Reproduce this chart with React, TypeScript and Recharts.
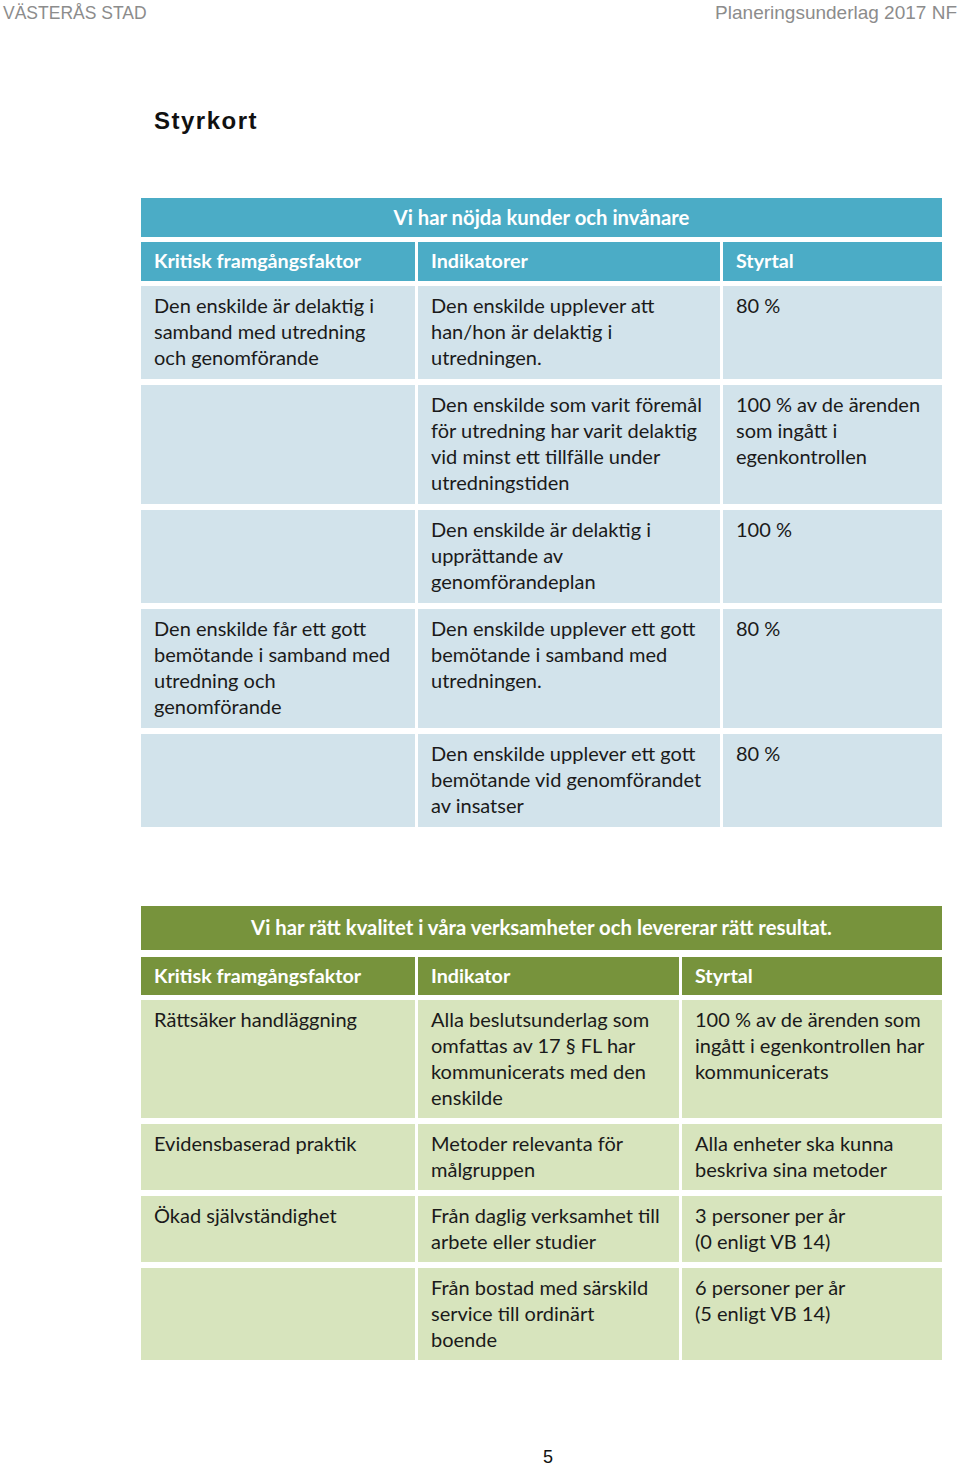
import React from "react";
import { ComposedChart, Customized } from "recharts";

// ---------- Data (text content of the page) ----------
const pageHeaderLeft = "VÄSTERÅS STAD";
const pageHeaderRight = "Planeringsunderlag 2017 NF";
const pageTitle = "Styrkort";
const pageNumber = "5";

const t1Title = "Vi har nöjda kunder och invånare";
const t1Headers = ["Kritisk framgångsfaktor", "Indikatorer", "Styrtal"];
const t1Factors: string[][] = [
  ["Den enskilde är delaktig i", "samband med utredning", "och genomförande"],
  [],
  [],
  ["Den enskilde får ett gott", "bemötande i samband med", "utredning och", "genomförande"],
  [],
];
const t1Indicators: string[][] = [
  ["Den enskilde upplever att", "han/hon är delaktig i", "utredningen."],
  ["Den enskilde som varit föremål", "för utredning har varit delaktig", "vid minst ett tillfälle under", "utredningstiden"],
  ["Den enskilde är delaktig i", "upprättande av", "genomförandeplan"],
  ["Den enskilde upplever ett gott", "bemötande i samband med", "utredningen."],
  ["Den enskilde upplever ett gott", "bemötande vid genomförandet", "av insatser"],
];
const t1Targets: string[][] = [
  ["80 %"],
  ["100 % av de ärenden", "som ingått i", "egenkontrollen"],
  ["100 %"],
  ["80 %"],
  ["80 %"],
];

const t2Title = "Vi har rätt kvalitet i våra verksamheter och levererar rätt resultat.";
const t2Headers = ["Kritisk framgångsfaktor", "Indikator", "Styrtal"];
const t2Factors: string[][] = [
  ["Rättsäker handläggning"],
  ["Evidensbaserad praktik"],
  ["Ökad självständighet"],
  [],
];
const t2Indicators: string[][] = [
  ["Alla beslutsunderlag som", "omfattas av 17 § FL har", "kommunicerats med den", "enskilde"],
  ["Metoder relevanta för", "målgruppen"],
  ["Från daglig verksamhet till", "arbete eller studier"],
  ["Från bostad med särskild", "service till ordinärt", "boende"],
];
const t2Targets: string[][] = [
  ["100 % av de ärenden som", "ingått i egenkontrollen har", "kommunicerats"],
  ["Alla enheter ska kunna", "beskriva sina metoder"],
  ["3 personer per år", "(0 enligt VB 14)"],
  ["6 personer per år", "(5 enligt VB 14)"],
];

// ---------- Layout ----------
const W = 960;
const H = 1466;
const FONT = "Lato, 'Open Sans', sans-serif";
const LINE = 26;
const FS = 20;
const FS_HEAD = 19.7;
const FS_TITLE = 20.3;

type TableProps = {
  y0: number;
  title: string;
  headers: string[];
  colX: number[];
  colR: number[];
  rows: string[][][];
  dark: string;
  light: string;
  titleH: number;
  headerH: number;
  gapTitle: number;
  gapHeader: number;
  rowPad: number;
  rowGap: number;
};

function Table(p: TableProps) {
  const els: React.ReactNode[] = [];
  const left = p.colX[0];
  const right = p.colR[p.colR.length - 1];
  let y = p.y0;
  els.push(<rect key="tt" x={left} y={y} width={right - left} height={p.titleH} fill={p.dark} />);
  els.push(
    <text key="ttx" x={(left + right) / 2} y={y + p.titleH / 2 + 7} textAnchor="middle" fontFamily={FONT}
      fontWeight={700} fontSize={FS_TITLE} fill="#ffffff">{p.title}</text>
  );
  y += p.titleH + p.gapTitle;
  p.headers.forEach((h, i) => {
    els.push(<rect key={"h" + i} x={p.colX[i]} y={y} width={p.colR[i] - p.colX[i]} height={p.headerH} fill={p.dark} />);
    els.push(
      <text key={"hx" + i} x={p.colX[i] + 13} y={y + p.headerH / 2 + 6.5} fontFamily={FONT} fontWeight={700}
        fontSize={FS_HEAD} fill="#ffffff">{h}</text>
    );
  });
  y += p.headerH + p.gapHeader;
  const nRows = p.rows[0].length;
  for (let r = 0; r < nRows; r++) {
    const n = Math.max(...p.rows.map((c) => c[r].length));
    const h = n * LINE + p.rowPad;
    p.rows.forEach((col, c) => {
      els.push(<rect key={`r${r}c${c}`} x={p.colX[c]} y={y} width={p.colR[c] - p.colX[c]} height={h} fill={p.light} />);
      col[r].forEach((line, li) => {
        els.push(
          <text key={`t${r}c${c}l${li}`} x={p.colX[c] + 13} y={y + 27 + li * LINE} fontFamily={FONT}
            fontSize={FS} fill="#1a1a1a">{line}</text>
        );
      });
    });
    y += h + p.rowGap;
  }
  return <g>{els}</g>;
}

function Page() {
  return (
    <g>
      <rect x={0} y={0} width={W} height={H} fill="#ffffff" />
      <text x={3} y={19} fontFamily="'Liberation Sans', Arial, sans-serif" fontSize={17.5} fill="#8c8c8c">{pageHeaderLeft}</text>
      <text x={957} y={19} textAnchor="end" fontFamily="'Liberation Sans', Arial, sans-serif" fontSize={19} fill="#8c8c8c">{pageHeaderRight}</text>
      <text x={154} y={129} fontFamily="'Liberation Sans', Arial, sans-serif" fontWeight={700} fontSize={24}
        letterSpacing={1.5} fill="#111111">{pageTitle}</text>
      <Table
        y0={198}
        title={t1Title}
        headers={t1Headers}
        colX={[141, 418, 723]}
        colR={[415, 720, 942]}
        rows={[t1Factors, t1Indicators, t1Targets]}
        dark="#4BACC6"
        light="#D2E3EB"
        titleH={39}
        headerH={39}
        gapTitle={5}
        gapHeader={5}
        rowPad={15}
        rowGap={6}
      />
      <Table
        y0={906}
        title={t2Title}
        headers={t2Headers}
        colX={[141, 418, 682]}
        colR={[415, 679, 942]}
        rows={[t2Factors, t2Indicators, t2Targets]}
        dark="#77933C"
        light="#D7E4BD"
        titleH={44}
        headerH={38}
        gapTitle={7}
        gapHeader={5}
        rowPad={14}
        rowGap={6}
      />
      <text x={548} y={1463} textAnchor="middle" fontFamily="'Liberation Sans', Arial, sans-serif" fontSize={18} fill="#111111">{pageNumber}</text>
    </g>
  );
}

export default function App() {
  return (
    <div style={{ position: "absolute", left: 0, top: 0, width: W, height: H, background: "#fff" }}>
      <ComposedChart width={W} height={H} data={[{ v: 0 }]} margin={{ top: 0, right: 0, bottom: 0, left: 0 }}>
        <Customized component={<Page />} />
      </ComposedChart>
    </div>
  );
}
